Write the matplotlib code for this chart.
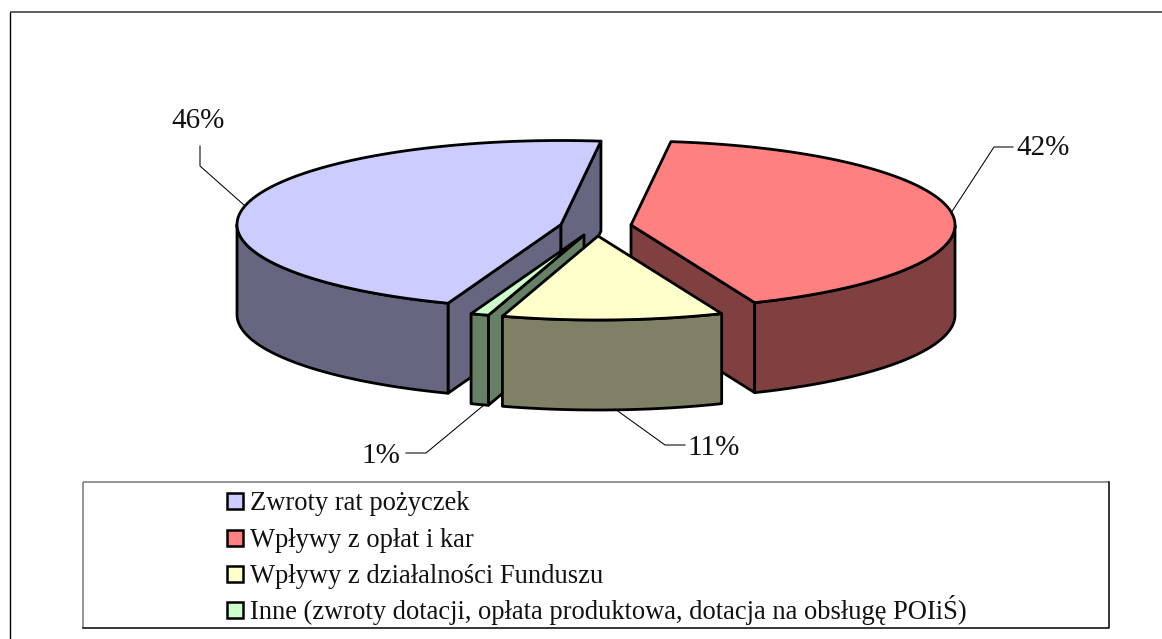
import numpy as np
import matplotlib
matplotlib.use("Agg")
import matplotlib.pyplot as plt
from matplotlib.patches import Polygon, Rectangle

plt.rcParams['font.family'] = ['Liberation Serif', 'DejaVu Serif']

categories = ["Zwroty rat pożyczek", "Wpływy z opłat i kar",
              "Wpływy z działalności Funduszu",
              "Inne (zwroty dotacji, opłata produktowa, dotacja na obsługę POIiŚ)"]
values = [46.3, 41.8, 11.0, 0.9]
top_colors = ["#CCCCFF", "#FF8080", "#FFFFCC", "#CCFFCC"]
side_colors = ["#666680", "#804040", "#808066", "#668066"]
apex_x = [561, 631, 598, 584]
apex_y = [224.5, 225, 236, 235]
draw_order = [0, 1, 3, 2]
label_xy = [(198, 128), (1043, 155), (714, 455), (381, 463)]
leaders = [[(200, 146), (200, 166), (244, 205)],
           [(1013, 147), (994, 147), (951, 213)],
           [(685, 445), (665, 445), (615, 409)],
           [(406, 453), (426, 453), (484, 405)]]
legend_base = [510, 547, 583, 619]

RX, RY, DEPTH = 324, 84, 90
START = -159.6
LW = 2.0

fig = plt.figure(figsize=(11.62, 6.39), dpi=100)
ax = fig.add_axes([0, 0, 1, 1])
ax.set_xlim(0, 1162)
ax.set_ylim(639, 0)
ax.axis('off')

ax.plot([10, 10], [12, 639], color='black', lw=1.0, solid_capstyle='butt')
ax.plot([10, 1162], [12, 12], color='#333333', lw=1.1, solid_capstyle='butt')


def pt(cx, cy, t):
    r = np.radians(t)
    return cx + RX * np.sin(r), cy - RY * np.cos(r)


angles = START + np.concatenate([[0], np.cumsum(values)]) * 3.6
kw = dict(edgecolor='black', lw=LW, joinstyle='round')
for i in draw_order:
    cx, cy = apex_x[i], apex_y[i]
    t1, t2 = angles[i], angles[i + 1]
    for t, vis in ((t1, np.sin(np.radians(t1)) < 0), (t2, np.sin(np.radians(t2)) > 0)):
        if vis:
            px, py = pt(cx, cy, t)
            ax.add_patch(Polygon([(cx, cy), (px, py), (px, py + DEPTH), (cx, cy + DEPTH)],
                                 facecolor=side_colors[i], **kw))
    ts = np.linspace(t1, t2, 200)
    xs, ys = pt(cx, cy, ts)
    mask = np.cos(np.radians(ts)) < 0
    if mask.any():
        rx, ry = xs[mask], ys[mask]
        ax.add_patch(Polygon(np.column_stack([np.r_[rx, rx[::-1]], np.r_[ry, ry[::-1] + DEPTH]]),
                             facecolor=side_colors[i], **kw))
    ax.add_patch(Polygon(np.column_stack([np.r_[cx, xs], np.r_[cy, ys]]),
                         facecolor=top_colors[i], **kw))

for line in leaders:
    ax.plot(*zip(*line), color='black', lw=0.75)
for (x, y), v in zip(label_xy, values):
    ax.text(x, y, f"{v:.0f}%", ha='center', va='baseline', fontsize=21, color='#111111')

ax.plot([83, 1109], [482, 482], color='#777777', lw=1.1, solid_capstyle='butt')
ax.plot([83, 83], [482, 628], color='#777777', lw=1.1, solid_capstyle='butt')
ax.plot([83, 1109, 1109], [628, 628, 482], color='black', lw=1.1)
for y, c, lab in zip(legend_base, top_colors, categories):
    ax.add_patch(Rectangle((227, y - 17), 16, 16, facecolor=c, edgecolor='black', lw=1.8))
    ax.text(250, y, lab, ha='left', va='baseline', fontsize=19.1, color='#111111')

fig.savefig("out.png", dpi=100)
